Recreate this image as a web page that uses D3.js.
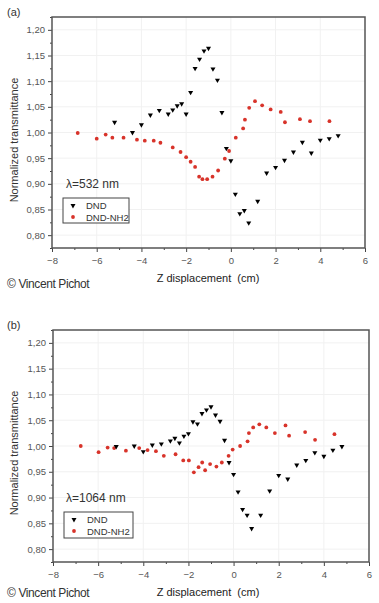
<!DOCTYPE html>
<html>
<head>
<meta charset="utf-8">
<script src="https://cdn.jsdelivr.net/npm/d3@7"></script>
<style>
  body { margin: 0; background: #fff; }
  svg { display: block; font-family: "Liberation Sans", Arial, sans-serif; }
</style>
</head>
<body>
<div id="chart"></div>
<script>
// ---- data ----
var xTicks = [-8, -6, -4, -2, 0, 2, 4, 6];
var yTicks = [0.80, 0.85, 0.90, 0.95, 1.00, 1.05, 1.10, 1.15, 1.20];
var seriesNames = ["DND", "DND-NH2"];

// (a) 532 nm
var dndX_a = [-5.2, -4.4, -4.0, -3.6, -3.2, -2.8, -2.6, -2.4, -2.2, -2.0, -1.8, -1.6, -1.4, -1.2, -1.0, -0.8, -0.6, -0.4, -0.2, 0.0, 0.2, 0.4, 0.6, 0.8, 1.2, 1.6, 2.0, 2.4, 2.8, 3.2, 3.6, 4.0, 4.4, 4.8];
var dndY_a = [1.020, 1.000, 1.015, 1.034, 1.043, 1.036, 1.044, 1.052, 1.056, 1.036, 1.078, 1.125, 1.143, 1.159, 1.164, 1.124, 1.102, 1.039, 0.969, 0.945, 0.880, 0.842, 0.848, 0.824, 0.866, 0.921, 0.932, 0.946, 0.962, 0.981, 0.960, 0.985, 0.988, 0.994];
var nh2X_a = [-6.85, -6.0, -5.6, -5.3, -4.8, -4.2, -3.85, -3.45, -3.15, -2.6, -2.25, -2.0, -1.8, -1.6, -1.42, -1.27, -1.06, -0.82, -0.57, -0.27, -0.08, 0.22, 0.55, 0.63, 0.82, 1.08, 1.40, 1.78, 2.23, 2.42, 3.09, 3.54, 4.41];
var nh2Y_a = [0.999, 0.988, 0.996, 0.990, 0.990, 0.986, 0.984, 0.984, 0.980, 0.971, 0.962, 0.952, 0.943, 0.933, 0.914, 0.909, 0.909, 0.914, 0.926, 0.949, 0.964, 0.990, 1.008, 1.025, 1.048, 1.061, 1.053, 1.045, 1.040, 1.020, 1.026, 1.022, 1.022];

// (b) 1064 nm
var dndX_b = [-5.2, -4.4, -4.0, -3.6, -3.2, -2.8, -2.6, -2.4, -2.2, -2.0, -1.8, -1.6, -1.4, -1.2, -1.0, -0.8, -0.6, -0.4, -0.2, 0.0, 0.2, 0.4, 0.6, 0.8, 1.2, 1.6, 2.0, 2.4, 2.8, 3.2, 3.6, 4.0, 4.4, 4.8];
var dndY_b = [0.999, 1.000, 0.989, 1.002, 1.004, 1.010, 1.015, 1.006, 1.019, 1.024, 1.047, 1.043, 1.063, 1.070, 1.076, 1.060, 1.048, 1.011, 0.968, 0.945, 0.911, 0.877, 0.866, 0.840, 0.866, 0.913, 0.943, 0.936, 0.963, 0.972, 0.987, 0.980, 0.992, 0.999];
var nh2X_b = [-6.77, -5.98, -5.58, -5.29, -4.77, -4.18, -3.81, -3.44, -3.09, -2.57, -2.23, -1.98, -1.76, -1.55, -1.39, -1.26, -1.04, -0.76, -0.52, -0.22, -0.04, 0.29, 0.62, 0.68, 0.87, 1.14, 1.45, 1.83, 2.30, 2.46, 3.17, 3.61, 4.47];
var nh2Y_b = [1.000, 0.988, 0.997, 0.996, 0.991, 0.996, 0.992, 0.990, 0.981, 0.984, 0.972, 0.972, 0.949, 0.959, 0.968, 0.953, 0.965, 0.960, 0.968, 0.981, 0.993, 1.000, 1.009, 1.025, 1.036, 1.042, 1.036, 1.025, 1.040, 1.020, 1.027, 1.012, 1.023];

var svg = d3.select("#chart").append("svg")
  .attr("width", 379)
  .attr("height", 603);

var fmtY = function(d) { return d3.format(".2f")(d).replace(".", ","); };

function zip(xs, ys) {
  return xs.map(function(x, i) { return {x: x, y: ys[i]}; });
}

// one panel
function drawPanel(p) {
  var x = d3.scaleLinear().domain([-8, 6]).range([p.left, p.right]);
  var y = d3.scaleLinear().domain([0.775, 1.225]).range([p.bottom, p.top]);
  var g = svg.append("g");

  // faint grid
  g.selectAll(".gx").data(xTicks.slice(1, -1)).enter().append("line")
    .attr("x1", function(d) { return x(d); }).attr("x2", function(d) { return x(d); })
    .attr("y1", p.top).attr("y2", p.bottom)
    .style("stroke", "#f1f1f1");
  g.selectAll(".gy").data(yTicks).enter().append("line")
    .attr("y1", function(d) { return y(d); }).attr("y2", function(d) { return y(d); })
    .attr("x1", p.left).attr("x2", p.right)
    .style("stroke", "#f1f1f1");

  // axes with minor ticks
  var yMinor = d3.range(0.775, 1.2251, 0.05);
  var xMinor = d3.range(-7, 6, 2);
  g.append("g").attr("transform", "translate(" + p.left + ",0)")
    .call(d3.axisLeft(y).tickValues(yMinor).tickSize(2).tickFormat(""));
  g.append("g").attr("transform", "translate(0," + p.bottom + ")")
    .call(d3.axisBottom(x).tickValues(xMinor).tickSize(2).tickFormat(""));
  var ya = g.append("g").attr("transform", "translate(" + p.left + ",0)")
    .call(d3.axisLeft(y).tickValues(yTicks).tickSize(4).tickPadding(3).tickFormat(fmtY));
  var xa = g.append("g").attr("transform", "translate(0," + p.bottom + ")")
    .call(d3.axisBottom(x).tickValues(xTicks).tickSize(4).tickPadding(5).tickFormat(d3.format("d")));
  g.selectAll(".domain").remove();
  g.selectAll(".tick line").style("stroke", "#444");
  [ya, xa].forEach(function(a) {
    a.selectAll("text").style("font-size", "9.5px").style("fill", "#555");
  });

  // frame
  g.append("rect")
    .attr("x", p.left).attr("y", p.top)
    .attr("width", p.right - p.left).attr("height", p.bottom - p.top)
    .style("fill", "none").style("stroke", "#555").style("stroke-width", 1.5);

  var tri = d3.symbol().type(d3.symbolTriangle).size(11);

  // DND-NH2 red dots
  g.selectAll(".nh2").data(zip(p.nh2X, p.nh2Y)).enter().append("circle")
    .attr("cx", function(d) { return x(d.x); })
    .attr("cy", function(d) { return y(d.y); })
    .attr("r", 1.9)
    .style("fill", "#d8332a");

  // DND black triangles, pointing down
  g.selectAll(".dnd").data(zip(p.dndX, p.dndY)).enter().append("path")
    .attr("d", tri)
    .attr("transform", function(d) { return "translate(" + x(d.x) + "," + y(d.y) + ") rotate(180)"; })
    .style("fill", "#000");

  // labels
  svg.append("text").attr("x", 7).attr("y", p.top - 1).text(p.tag)
    .style("font-size", "11px").style("fill", "#333");
  svg.append("text")
    .attr("transform", "translate(" + 18 + "," + p.ylabelY + ") rotate(-90)")
    .attr("text-anchor", "middle")
    .text("Normalized transmittance")
    .style("font-size", "11px").style("fill", "#333");
  svg.append("text").attr("x", 208).attr("y", p.bottom + 34)
    .attr("text-anchor", "middle")
    .text("Z displacement\u00a0 (cm)")
    .style("font-size", "11px").style("fill", "#222");
  svg.append("text").attr("x", 7).attr("y", p.bottom + p.copyDy)
    .text("\u00a9 Vincent Pichot")
    .style("font-size", "12px").style("fill", "#333").style("letter-spacing", "-0.4px");

  // wavelength + legend
  svg.append("text").attr("x", 66).attr("y", p.lamY)
    .text(p.lam).style("font-size", "12px").style("fill", "#333");
  var lg = svg.append("g");
  lg.append("rect")
    .attr("x", p.leg[0]).attr("y", p.leg[1]).attr("width", p.leg[2]).attr("height", p.leg[3])
    .style("fill", "#fff").style("stroke", "#444").style("stroke-width", 1);
  lg.append("path").attr("d", tri)
    .attr("transform", "translate(" + (p.leg[0] + 10) + "," + (p.leg[1] + 7.5) + ") rotate(180)")
    .style("fill", "#000");
  lg.append("circle").attr("cx", p.leg[0] + 10).attr("cy", p.leg[1] + 19).attr("r", 1.9)
    .style("fill", "#d8332a");
  lg.selectAll(".lt").data(seriesNames).enter().append("text")
    .attr("x", p.leg[0] + 23)
    .attr("y", function(d, i) { return p.leg[1] + 11 + i * 11.5; })
    .text(function(d) { return d; })
    .style("font-size", "9.5px").style("fill", "#333");
}

drawPanel({
  tag: "(a)", left: 52, right: 365, top: 17, bottom: 248, ylabelY: 140,
  copyDy: 40, lam: "\u03bb=532 nm", lamY: 188, leg: [63, 198, 66, 25],
  dndX: dndX_a, dndY: dndY_a, nh2X: nh2X_a, nh2Y: nh2Y_a
});
drawPanel({
  tag: "(b)", left: 53, right: 369, top: 330, bottom: 562, ylabelY: 453,
  copyDy: 35, lam: "\u03bb=1064 nm", lamY: 502, leg: [64, 512, 69, 26],
  dndX: dndX_b, dndY: dndY_b, nh2X: nh2X_b, nh2Y: nh2Y_b
});
</script>
</body>
</html>
